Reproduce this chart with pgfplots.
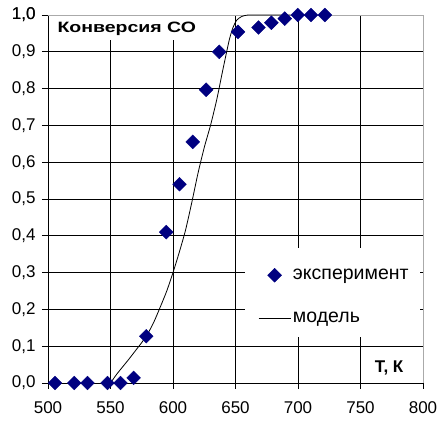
\documentclass[border=0pt]{standalone}
\usepackage{pgfplots}
\pgfplotsset{compat=1.18}
\usepackage{fontspec}
\setmainfont{Liberation Sans}
\definecolor{expblue}{RGB}{0,0,128}
\definecolor{framegray}{RGB}{170,170,170}

\pgfplotsset{
  markimage/.style={legend image code/.code={
    \path[draw=none, fill=none] (0pt,0pt) rectangle (32pt,0pt);
    \draw[##1, only marks] plot coordinates {(16pt,0pt)};}},
  lineimage/.style={legend image code/.code={
    \draw[##1] (0pt,0pt) -- (32pt,0pt);}},
}

% measured conversion of CO
\pgfplotstableread{
T     X
505.6 0.000
521.0 0.000
531.6 0.000
547.6 0.000
558.0 0.000
568.5 0.014
578.6 0.127
594.6 0.410
605.2 0.540
615.8 0.655
626.5 0.797
637.0 0.900
652.0 0.954
668.4 0.966
678.7 0.979
689.4 0.990
699.8 1.000
710.4 1.000
721.5 1.000
}\exptable

% model curve
\pgfplotstableread{
T     X
550 0.000
555 0.024
560 0.045
565 0.066
570 0.088
575 0.110
580 0.135
585 0.168
590 0.208
595 0.250
600 0.300
605 0.355
610 0.415
615 0.490
620 0.570
625 0.640
630 0.700
635 0.770
640 0.853
645 0.932
648 0.966
651 0.986
655 0.996
660 1.000
670 1.000
680 1.000
694 1.000
}\modeltable

\begin{document}
\begin{tikzpicture}
\begin{axis}[
  scale only axis,
  width=375pt, height=368pt,
  xmin=500, xmax=800, ymin=0, ymax=1,
  xtick={500,550,...,750}, extra x ticks={800},
  ytick={0,0.1,...,0.95}, extra y ticks={1},
  extra x tick style={grid=none},
  extra y tick style={grid=none},
  axis x line*=bottom, axis y line*=left,
  x axis line style={-}, y axis line style={-},
  axis line style={black, line width=0.9pt},
  grid=major,
  major grid style={black, line width=0.9pt},
  tick style={black, line width=0.9pt},
  tick align=outside,
  major tick length=6pt,
  /pgf/number format/.cd, use comma, fixed, fixed zerofill, precision=1, assume math mode=true,
  /pgfplots/.cd,
  x tick label style={/pgf/number format/precision=0, /pgf/number format/fixed zerofill=false, font=\fontsize{17}{17}\selectfont, yshift=-9pt},
  y tick label style={font=\fontsize{17}{17}\selectfont, xshift=-3pt},
  clip=false,
  legend style={at={(rel axis cs:0.56,0.315)}, anchor=north west, draw=none, fill=none,
    inner sep=0pt, row sep=27pt, font=\fontsize{19.5}{19.5}\selectfont,
    cells={anchor=west}},
  legend cell align=left,
]
% grey upper and right frame
\draw[framegray, line width=0.9pt] (rel axis cs:0,1) -- (rel axis cs:1,1) -- (rel axis cs:1,0);
% white patches behind the title and the legend
\fill[white] (rel axis cs:0.003,0.997) rectangle (rel axis cs:0.405,0.932);
\fill[white] (rel axis cs:0.525,0.367) rectangle (rel axis cs:0.992,0.125);
\node[anchor=west, font=\bfseries\fontsize{15}{15}\selectfont] at (rel axis cs:0.016,0.963)
  {\scalebox{1.3}[1]{Конверсия СО}};
\node[anchor=east, font=\bfseries\fontsize{17}{17}\selectfont] at (rel axis cs:0.957,0.04) {Т, К};

\addplot[only marks, mark=square*, mark size=4.9pt,
  mark options={rotate=45, fill=expblue, draw=expblue}, markimage]
  table[x=T, y=X] {\exptable};
\addlegendentry{эксперимент}

\addplot[black, line width=0.8pt, smooth, tension=0.4, lineimage]
  table[x=T, y=X] {\modeltable};
\addlegendentry{модель}
\end{axis}
\pgfresetboundingbox
\path (current axis.south west) ++(-48pt,-47pt) rectangle ([shift={(14pt,15pt)}]current axis.north east);
\end{tikzpicture}
\end{document}
